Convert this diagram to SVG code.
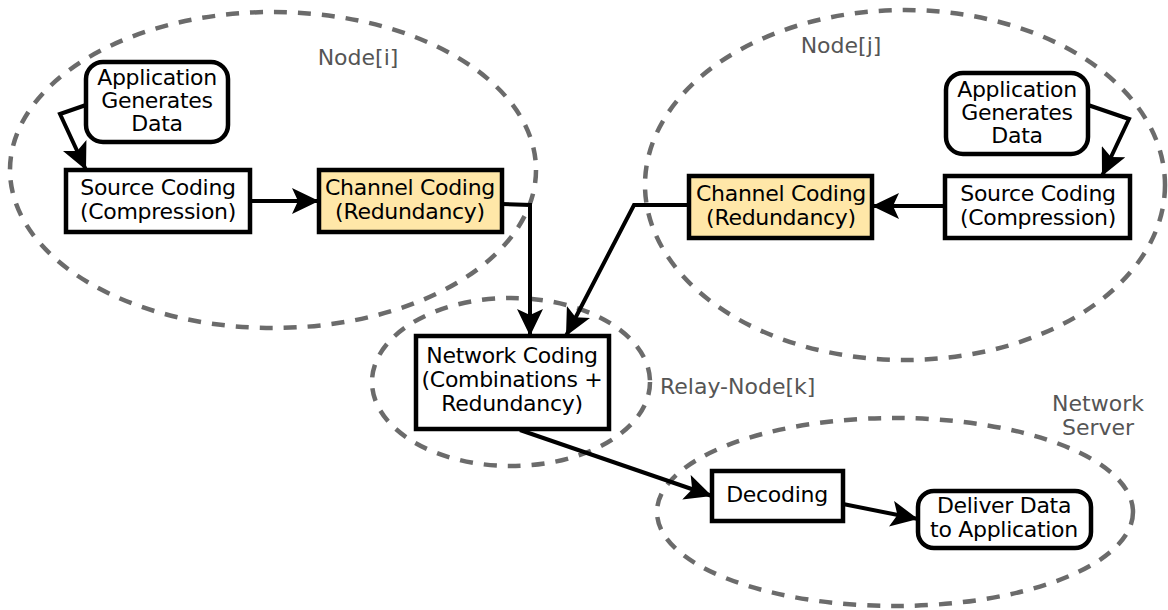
<svg xmlns="http://www.w3.org/2000/svg" width="1168" height="610" viewBox="0 0 1168 610">
<style>
.grp{fill:none;stroke:#6b6b6b;stroke-width:4.5;stroke-dasharray:13 11}
.box{fill:#fff;stroke:#000;stroke-width:4.5}
.cc{fill:#ffe7a8;stroke:#000;stroke-width:4.5}
.t{font-family:"DejaVu Sans",sans-serif;font-size:22px;letter-spacing:-0.3px;fill:#000;text-anchor:middle}
.lbl{font-family:"DejaVu Sans",sans-serif;font-size:22px;fill:#555}
.c{fill:none;stroke:#000;stroke-width:4;marker-end:url(#ah)}
</style>
<defs>
<marker id="ah" markerUnits="userSpaceOnUse" markerWidth="30" markerHeight="26" refX="27" refY="13" orient="auto">
<path d="M0,0 L27,13 L0,26 L6,13 z" fill="#000"/>
</marker>
</defs>
<rect width="1168" height="610" fill="#fff"/>
<g id="groups">
<ellipse class="grp" cx="273" cy="170" rx="263" ry="158"/>
<ellipse class="grp" cx="905" cy="185" rx="260" ry="175"/>
<ellipse class="grp" cx="511" cy="382" rx="139" ry="84"/>
<ellipse class="grp" cx="895" cy="512" rx="238" ry="94"/>
<text class="lbl" x="358" y="65" text-anchor="middle">Node[i]</text>
<text class="lbl" x="841" y="53" text-anchor="middle">Node[j]</text>
<text class="lbl" x="660" y="394">Relay-Node[k]</text>
<text class="lbl" x="1098" y="411" text-anchor="middle">Network</text>
<text class="lbl" x="1098" y="435" text-anchor="middle">Server</text>
</g>
<g id="connectors">
<polyline class="c" points="86,105 60,114 86,170"/>
<line class="c" x1="250" y1="201" x2="319" y2="201"/>
<polyline class="c" points="502,204 530,205 530,336"/>
<polyline class="c" points="689,205 634,205 566,336"/>
<line class="c" x1="945" y1="206" x2="872" y2="206"/>
<polyline class="c" points="1088,105 1129,119 1102,176"/>
<line class="c" x1="520" y1="430" x2="712" y2="496"/>
<line class="c" x1="843" y1="504" x2="918" y2="519"/>
</g>
<g id="app-i">
<rect class="box" x="86" y="62" width="142" height="80" rx="17"/>
<text class="t" x="157" y="85">Application</text>
<text class="t" x="157" y="108">Generates</text>
<text class="t" x="157" y="131">Data</text>
</g>
<g id="source-i">
<rect class="box" x="66" y="170" width="184" height="62"/>
<text class="t" x="158" y="195">Source Coding</text>
<text class="t" x="158" y="219">(Compression)</text>
</g>
<g id="channel-i">
<rect class="cc" x="319" y="170" width="183" height="62"/>
<text class="t" x="410" y="195">Channel Coding</text>
<text class="t" x="410" y="219">(Redundancy)</text>
</g>
<g id="network-coding">
<rect class="box" x="416" y="336" width="193" height="93"/>
<text class="t" x="512" y="363">Network Coding</text>
<text class="t" x="512" y="387">(Combinations +</text>
<text class="t" x="512" y="411">Redundancy)</text>
</g>
<g id="channel-j">
<rect class="cc" x="689" y="176" width="183" height="62"/>
<text class="t" x="781" y="201">Channel Coding</text>
<text class="t" x="781" y="225">(Redundancy)</text>
</g>
<g id="source-j">
<rect class="box" x="945" y="176" width="185" height="62"/>
<text class="t" x="1038" y="201">Source Coding</text>
<text class="t" x="1038" y="225">(Compression)</text>
</g>
<g id="app-j">
<rect class="box" x="946" y="73" width="142" height="81" rx="17"/>
<text class="t" x="1017" y="97">Application</text>
<text class="t" x="1017" y="120">Generates</text>
<text class="t" x="1017" y="143">Data</text>
</g>
<g id="decoding">
<rect class="box" x="712" y="471" width="131" height="50"/>
<text class="t" x="777" y="502">Decoding</text>
</g>
<g id="deliver">
<rect class="box" x="918" y="491" width="173" height="57" rx="16"/>
<text class="t" x="1004" y="513">Deliver Data</text>
<text class="t" x="1004" y="537">to Application</text>
</g>
</svg>
